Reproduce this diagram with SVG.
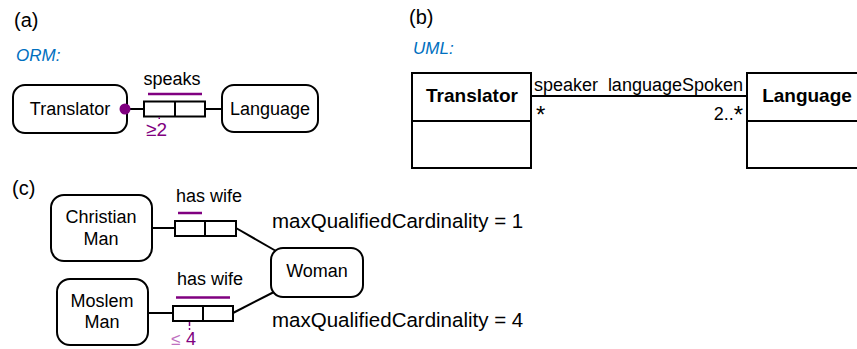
<svg xmlns="http://www.w3.org/2000/svg" width="857" height="349" viewBox="0 0 857 349">
<style>
text{font-family:"Liberation Sans",Arial,sans-serif;fill:#000}
.box{fill:#fff;stroke:#000;stroke-width:2}
.role{fill:#fff;stroke:#000;stroke-width:2}
.ln{stroke:#000;stroke-width:2;fill:none}
.pu{stroke:#800080;stroke-width:2.5}
.lbl{font-size:18px}
.cap{font-size:20px}
.note{font-size:17px;font-style:italic;fill:#0070c0}
.bold{font-size:19px;font-weight:bold}
.mqc{font-size:20.5px}
.star{font-size:24px}
</style>
<rect width="857" height="349" fill="#fff"/>
<text class="cap" x="14" y="27">(a)</text>
<text class="cap" x="409" y="24">(b)</text>
<text class="cap" x="12" y="195">(c)</text>
<text class="note" x="16" y="61">ORM:</text>
<text class="note" x="413" y="54">UML:</text>
<g id="connectors">
<line class="ln" x1="127" y1="109" x2="144" y2="109"/>
<line class="ln" x1="205" y1="109" x2="222" y2="109"/>
<line class="ln" x1="531" y1="96" x2="747" y2="96"/>
<line class="ln" x1="152" y1="228" x2="175" y2="228"/>
<line class="ln" x1="236" y1="228" x2="276" y2="251"/>
<line class="ln" x1="148" y1="313" x2="173" y2="313"/>
<line class="ln" x1="233" y1="313" x2="274" y2="292"/>
</g>
<g id="orm-translator">
<rect class="box" x="13" y="85" width="114" height="48" rx="12"/>
<text class="lbl" x="70" y="115" text-anchor="middle" font-size="19">Translator</text>
<circle cx="125" cy="109" r="5.5" fill="#800080"/>
</g>
<g id="orm-speaks">
<rect class="role" x="144" y="101.5" width="61" height="15"/>
<line class="ln" x1="175" y1="101.5" x2="175" y2="116.5"/>
<line class="pu" x1="148" y1="94" x2="202" y2="94"/>
<text class="lbl" x="172" y="85" text-anchor="middle">speaks</text>
<rect x="158.5" y="117.5" width="1.5" height="1.5" fill="#800080"/>
<text x="146" y="136" font-size="19" style="fill:#800080">≥2</text>
</g>
<g id="orm-language">
<rect class="box" x="222" y="85" width="96" height="47" rx="12"/>
<text class="lbl" x="270" y="115" text-anchor="middle">Language</text>
</g>
<g id="uml-translator">
<rect class="box" x="412" y="73" width="119" height="95"/>
<line class="ln" x1="412" y1="121" x2="531" y2="121"/>
<text class="bold" x="472" y="102" text-anchor="middle">Translator</text>
</g>
<g id="uml-language">
<rect class="box" x="747" y="73" width="120" height="95"/>
<line class="ln" x1="747" y1="121" x2="867" y2="121"/>
<text class="bold" x="807" y="102" text-anchor="middle">Language</text>
</g>
<g id="uml-labels">
<text class="lbl" x="534" y="91">speaker</text>
<text class="lbl" x="743" y="91" text-anchor="end">languageSpoken</text>
<text class="star" x="536" y="123">*</text>
<text class="lbl" x="743" y="120" text-anchor="end">2..<tspan class="star" dy="3">*</tspan></text>
</g>
<g id="christian-man">
<rect class="box" x="51" y="195" width="101" height="66" rx="13"/>
<text class="lbl" x="101" y="223" text-anchor="middle">Christian</text>
<text class="lbl" x="101" y="245" text-anchor="middle">Man</text>
</g>
<g id="haswife-1">
<rect class="role" x="175" y="221" width="61" height="15"/>
<line class="ln" x1="205" y1="221" x2="205" y2="236"/>
<line class="pu" x1="178" y1="213" x2="202" y2="213"/>
<text class="lbl" x="176" y="202" font-size="19">has wife</text>
</g>
<g id="moslem-man">
<rect class="box" x="57" y="279" width="91" height="66" rx="13"/>
<text class="lbl" x="102" y="307" text-anchor="middle">Moslem</text>
<text class="lbl" x="102" y="328" text-anchor="middle">Man</text>
</g>
<g id="haswife-2">
<rect class="role" x="173" y="306" width="60" height="15"/>
<line class="ln" x1="203" y1="306" x2="203" y2="321"/>
<line class="pu" x1="176" y1="297.5" x2="230" y2="297.5"/>
<text class="lbl" x="177" y="285" font-size="19">has wife</text>
<line x1="189.5" y1="322" x2="189.5" y2="330" stroke="#800080" stroke-width="1.5" stroke-dasharray="4,2"/>
<text x="171" y="345" font-size="17" style="fill:#c070c0">≤</text>
<text x="186" y="345" font-size="18" style="fill:#800080">4</text>
</g>
<g id="woman">
<rect class="box" x="271" y="248" width="92" height="49" rx="12"/>
<text class="lbl" x="317" y="277" text-anchor="middle">Woman</text>
</g>
<text class="mqc" x="272" y="228">maxQualifiedCardinality = 1</text>
<text class="mqc" x="272" y="327">maxQualifiedCardinality = 4</text>
</svg>
